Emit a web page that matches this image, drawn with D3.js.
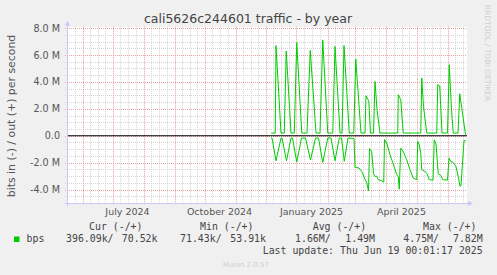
<!DOCTYPE html>
<html><head><meta charset="utf-8">
<script src="https://cdn.jsdelivr.net/npm/d3@7"></script>
<style>html,body{margin:0;padding:0;background:#f0f0f0;} svg{display:block}</style>
</head><body>
<svg id="c" width="497" height="275"></svg>
<script>
const title = "cali5626c244601 traffic - by year";
const yAxisTitle = "bits in (-) / out (+) per second";

// out (+) series, Mbit/s
const outDates = ["2024-12-06 12","2024-12-10 18","2024-12-11 12","2024-12-16 12","2024-12-19 18","2024-12-21 18","2024-12-26 12","2024-12-29 18","2025-01-01 06","2025-01-06 06","2025-01-11 12","2025-01-14 18","2025-01-20 12","2025-01-24 12","2025-01-27 06","2025-02-01 06","2025-02-06 06","2025-02-08 12","2025-02-13 12","2025-02-15 12","2025-02-17 12","2025-02-22 18","2025-02-27 06","2025-03-01 06","2025-03-06 12","2025-03-10 12","2025-03-11 12","2025-03-14 06","2025-03-16 00","2025-03-19 00","2025-03-20 12","2025-03-22 12","2025-03-25 12","2025-04-12 06","2025-04-12 18","2025-04-15 06","2025-04-17 18","2025-05-05 06","2025-05-06 06","2025-05-08 00","2025-05-11 06","2025-05-21 06","2025-05-22 06","2025-05-24 06","2025-05-26 12","2025-06-01 00","2025-06-02 18","2025-06-05 00","2025-06-06 18","2025-06-11 12","2025-06-13 06","2025-06-15 12","2025-06-19 00"];
const outValues = [0.2,0.2,6.7,0.2,0.2,6.3,0.2,0.2,6.93,0.2,0.2,6.35,0.2,0.2,7.13,0.2,0.2,6.64,0.2,0.2,6.7,0.2,0.2,5.7,0.2,0.2,2.97,2.6,0.2,0.2,4.04,1.94,0.2,0.2,3.05,2.68,0.2,0.2,4.3,2.18,0.2,0.2,3.8,3.7,0.2,0.2,5.28,1.94,0.2,0.2,3.12,1.94,0.07];

// in (-) series, Mbit/s (drawn negative)
const inDates = ["2024-12-06 12","2024-12-07 12","2024-12-11 12","2024-12-16 12","2024-12-17 12","2024-12-22 00","2024-12-26 12","2024-12-28 00","2025-01-01 06","2025-01-06 00","2025-01-10 00","2025-01-15 00","2025-01-20 00","2025-01-23 00","2025-01-27 06","2025-02-01 06","2025-02-04 12","2025-02-08 12","2025-02-12 18","2025-02-15 00","2025-02-17 18","2025-02-21 12","2025-02-27 12","2025-02-28 12","2025-03-04 12","2025-03-07 06","2025-03-10 12","2025-03-12 06","2025-03-14 00","2025-03-15 00","2025-03-17 06","2025-03-19 00","2025-03-20 12","2025-03-22 06","2025-03-23 18","2025-03-27 06","2025-03-29 06","2025-03-30 00","2025-04-01 06","2025-04-04 12","2025-04-07 18","2025-04-11 06","2025-04-12 18","2025-04-13 18","2025-04-15 06","2025-04-17 18","2025-04-21 06","2025-04-24 12","2025-04-27 18","2025-05-01 06","2025-05-02 06","2025-05-03 18","2025-05-05 06","2025-05-06 06","2025-05-09 12","2025-05-11 12","2025-05-13 18","2025-05-17 12","2025-05-18 18","2025-05-20 12","2025-05-22 18","2025-05-25 06","2025-05-27 06","2025-06-01 00","2025-06-02 12","2025-06-04 06","2025-06-06 18","2025-06-09 12","2025-06-11 18","2025-06-13 12","2025-06-14 12","2025-06-17 12","2025-06-19 06"];
const inValues = [0.17,0.17,1.86,0.17,0.17,1.86,0.17,0.17,1.96,0.17,0.17,1.8,0.17,0.17,1.99,0.17,0.17,1.86,0.17,0.17,1.9,0.17,0.2,2.35,2.4,2.66,3.23,3.5,4.1,0.95,1.2,2.8,3.03,3.0,3.27,3.35,3.45,0.28,0.54,1.42,2.1,2.9,3.05,3.97,0.92,1.17,1.79,2.53,3.15,3.27,0.42,0.67,1.3,2.53,2.66,2.8,3.27,3.3,0.3,0.6,2.83,2.95,3.27,3.3,1.67,1.9,1.98,2.3,3.03,3.77,3.7,0.35,0.4];

const yTickValues = [-4, -2, 0, 2, 4, 6, 8];
const yTickLabels = ["-4.0 M", "-2.0 M", "0.0", "2.0 M", "4.0 M", "6.0 M", "8.0 M"];
const xLabels = ["July 2024", "October 2024", "January 2025", "April 2025"];
const xLabelDates = ["2024-07-16 00", "2024-10-16 00", "2025-01-16 00", "2025-04-16 00"];

const legendHeaders = ["Cur (-/+)", "Min (-/+)", "Avg (-/+)", "Max (-/+)"];
const legendIn = ["396.09k/", "71.43k/", "1.66M/", "4.75M/"];
const legendOut = ["70.52k", "53.91k", "1.49M", "7.82M"];
const seriesName = "bps";
const lastUpdate = "Last update: Thu Jun 19 00:01:17 2025";
const footer = "Munin 2.0.57";
const watermark = "RRDTOOL / TOBI OETIKER";

const parse = d3.utcParse("%Y-%m-%d %H");
const svg = d3.select("#c");
const L = 67, R = 467, T = 26.8, B = 203;
const x = d3.scaleUtc().domain([parse("2024-05-16 12"), parse("2025-06-20 12")]).range([L, R]);
const y = d3.scaleLinear().domain([-5, 8.1]).range([B, T]);
const green = "#00cc00";
const sans = "DejaVu Sans, sans-serif";
const mono = "DejaVu Sans Mono, monospace";

svg.append("rect").attr("x", L).attr("y", T).attr("width", R - L).attr("height", B - T).attr("fill", "#fff");

// horizontal grid
const minorH = d3.range(-9, 17).map(d => d / 2).filter(d => d % 2 !== 0);
svg.append("g").selectAll("line").data(minorH).join("line")
  .attr("x1", L - 2).attr("x2", R).attr("y1", d => Math.round(y(d)) + 0.5).attr("y2", d => Math.round(y(d)) + 0.5)
  .attr("stroke", "#d6d6d6").attr("stroke-dasharray", "1,1");
// vertical grid
const months = d3.utcMonth.range(parse("2024-05-01 00"), parse("2025-07-01 00"));
const minorV = [];
months.forEach(m => {
  const n = d3.utcMonth.offset(m, 1);
  for (let k = 1; k < 4; k++) minorV.push(new Date(+m + (n - m) * k / 4));
});
const inX = d => x(d) > L + 1 && x(d) < R;
svg.append("g").selectAll("line").data(minorV.filter(inX)).join("line")
  .attr("x1", d => Math.round(x(d)) + 0.5).attr("x2", d => Math.round(x(d)) + 0.5)
  .attr("y1", T).attr("y2", B + 2)
  .attr("stroke", "#d6d6d6").attr("stroke-dasharray", "1,1");
svg.append("g").selectAll("line").data(months.filter(inX)).join("line")
  .attr("x1", d => Math.round(x(d)) + 0.5).attr("x2", d => Math.round(x(d)) + 0.5)
  .attr("y1", T).attr("y2", B + 2)
  .attr("stroke", "#e8a0a0").attr("stroke-dasharray", "1,1");
svg.append("g").selectAll("line").data(yTickValues).join("line")
  .attr("x1", L - 2).attr("x2", R).attr("y1", d => Math.round(y(d)) + 0.5).attr("y2", d => Math.round(y(d)) + 0.5)
  .attr("stroke", "#e8a0a0").attr("stroke-dasharray", "1,1");

// y tick labels
svg.append("g").selectAll("text").data(yTickValues).join("text")
  .attr("x", 60).attr("y", d => y(d)).attr("dy", "0.36em").attr("text-anchor", "end")
  .attr("font-family", sans).attr("font-size", 9.6).attr("fill", "#555")
  .text((d, i) => yTickLabels[i]);
// x labels
svg.append("g").selectAll("text").data(xLabelDates).join("text")
  .attr("x", d => x(parse(d))).attr("y", 215).attr("text-anchor", "middle")
  .attr("font-family", sans).attr("font-size", 9.5).attr("fill", "#555")
  .text((d, i) => xLabels[i]);

// series
const line = d3.line().x(d => x(d[0])).y(d => y(d[1]));
const outPts = outDates.map((d, i) => [parse(d), outValues[i]]);
const inPts = inDates.map((d, i) => [parse(d), -inValues[i]]);
svg.append("path").attr("d", line(outPts)).attr("fill", "none").attr("stroke", green).attr("stroke-width", 1);
svg.append("path").attr("d", line(inPts)).attr("fill", "none").attr("stroke", green).attr("stroke-width", 1);

// zero line
svg.append("line").attr("x1", L).attr("x2", R).attr("y1", y(0)).attr("y2", y(0)).attr("stroke", "#000").attr("stroke-width", 1.2);

// axes
const axc = "#c8c8f8";
svg.append("line").attr("x1", L - 2).attr("x2", R + 1).attr("y1", B + 0.5).attr("y2", B + 0.5).attr("stroke", axc);
svg.append("line").attr("x1", L + 0.5).attr("x2", L + 0.5).attr("y1", B + 3).attr("y2", T - 2).attr("stroke", axc);
svg.append("path").attr("d", `M${L - 2},${T - 1}L${L + 3},${T - 1}L${L + 0.5},${T - 6}Z`).attr("fill", axc);
svg.append("path").attr("d", `M${R + 1},${B - 2}L${R + 1},${B + 3}L${R + 6},${B + 0.5}Z`).attr("fill", axc);

// title
svg.append("text").attr("x", 248).attr("y", 23).attr("text-anchor", "middle")
  .attr("font-family", sans).attr("font-size", 12.5).attr("fill", "#444").text(title);
// y axis title
svg.append("text").attr("transform", "translate(15,116) rotate(-90)").attr("text-anchor", "middle")
  .attr("font-family", sans).attr("font-size", 10.9).attr("fill", "#555").text(yAxisTitle);
// watermark
svg.append("text").attr("transform", "translate(485,53) rotate(90)").attr("text-anchor", "middle")
  .attr("font-family", sans).attr("font-size", 7.5).attr("fill", "#cfcfcf").text(watermark);

// legend
const hx = [89, 200, 312.7, 423];
const ix = [66, 180, 295, 403.3];
const ox = [157.5, 266, 375, 482.7];
const lg = svg.append("g").attr("font-family", mono).attr("font-size", 9.9).attr("fill", "#444");
lg.selectAll("text.h").data(legendHeaders).join("text").attr("class", "h")
  .attr("x", (d, i) => hx[i]).attr("y", 230).text(d => d);
lg.selectAll("text.i").data(legendIn).join("text").attr("class", "i")
  .attr("x", (d, i) => ix[i]).attr("y", 242).text(d => d);
lg.selectAll("text.o").data(legendOut).join("text").attr("class", "o")
  .attr("x", (d, i) => ox[i]).attr("y", 242).attr("text-anchor", "end").text(d => d);
lg.append("text").attr("x", 26.5).attr("y", 242).text(seriesName);
lg.append("text").attr("x", 482.7).attr("y", 253.5).attr("text-anchor", "end").text(lastUpdate);
svg.append("rect").attr("x", 14).attr("y", 236.5).attr("width", 5.5).attr("height", 5.5).attr("fill", green);
svg.append("text").attr("x", 246).attr("y", 266.5).attr("text-anchor", "middle")
  .attr("font-family", sans).attr("font-size", 7).attr("fill", "#cfcfcf").text(footer);
</script>
</body></html>
